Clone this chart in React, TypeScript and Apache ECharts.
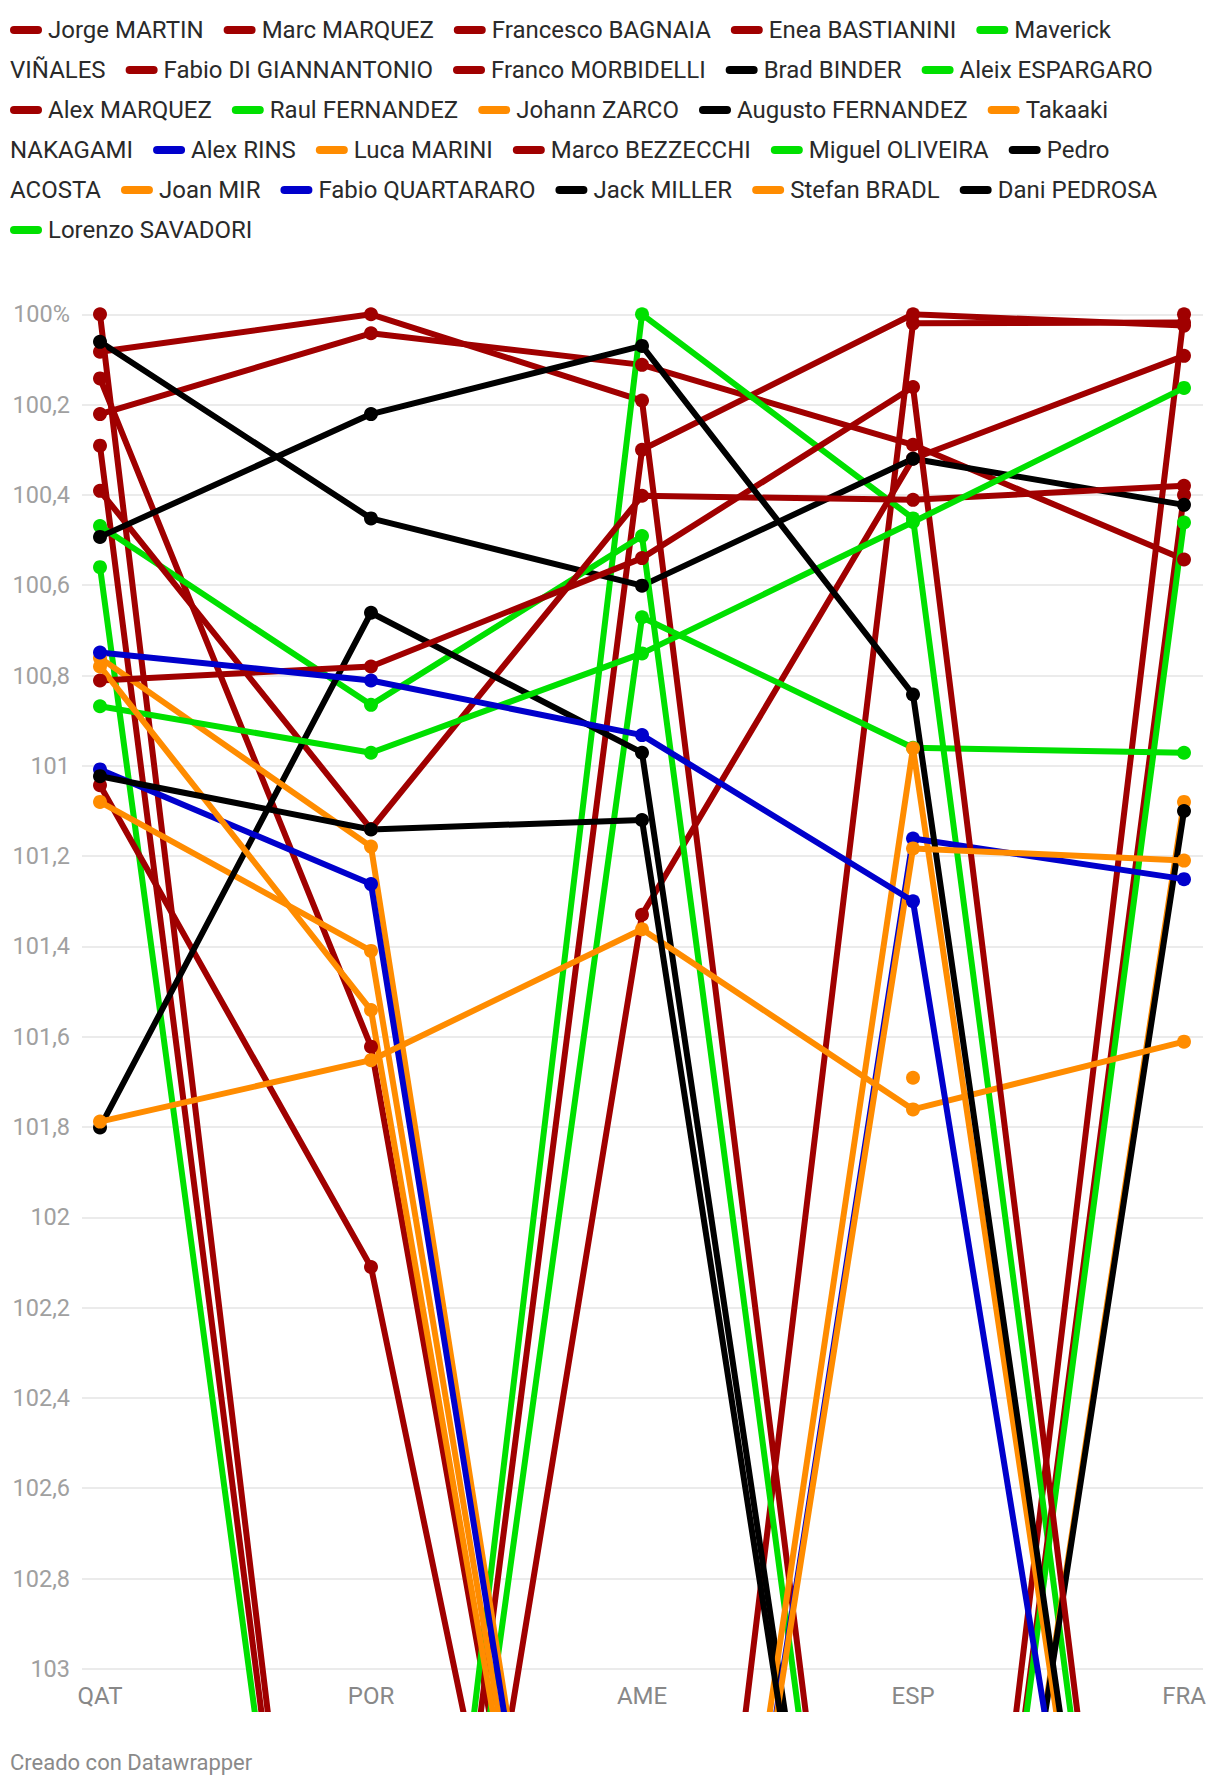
import React, { useEffect, useRef } from "react";
import * as echarts from "echarts";

// ---------- DATA ----------
const races = ["QAT", "POR", "AME", "ESP", "FRA"];

const yTickValues = [100, 100.2, 100.4, 100.6, 100.8, 101, 101.2, 101.4, 101.6, 101.8, 102, 102.2, 102.4, 102.6, 102.8, 103];
const yTickLabels = ["100%", "100,2", "100,4", "100,6", "100,8", "101", "101,2", "101,4", "101,6", "101,8", "102", "102,2", "102,4", "102,6", "102,8", "103"];

const riderNames = [
  "Jorge MARTIN", "Marc MARQUEZ", "Francesco BAGNAIA", "Enea BASTIANINI", "Maverick VIÑALES",
  "Fabio DI GIANNANTONIO", "Franco MORBIDELLI", "Brad BINDER", "Aleix ESPARGARO", "Alex MARQUEZ",
  "Raul FERNANDEZ", "Johann ZARCO", "Augusto FERNANDEZ", "Takaaki NAKAGAMI", "Alex RINS",
  "Luca MARINI", "Marco BEZZECCHI", "Miguel OLIVEIRA", "Pedro ACOSTA", "Joan MIR",
  "Fabio QUARTARARO", "Jack MILLER", "Stefan BRADL", "Dani PEDROSA", "Lorenzo SAVADORI",
];

const riderBrand = [
  "ducati", "ducati", "ducati", "ducati", "aprilia",
  "ducati", "ducati", "ktm", "aprilia", "ducati",
  "aprilia", "honda", "ktm", "honda", "yamaha",
  "honda", "ducati", "aprilia", "ktm", "honda",
  "yamaha", "ktm", "honda", "ktm", "aprilia",
];

// % of reference time per race (QAT, POR, AME, ESP, FRA); null = no entry
const jorgeMartin = [100.083, 100.0, 100.191, 105, 100.0];
const marcMarquez = [100.142, 101.622, 105, 100.02, 100.018];
const francescoBagnaia = [100.0, 105, 100.3, 100.0, 100.025];
const eneaBastianini = [100.221, 100.042, 100.112, 100.289, 100.543];
const maverickVinales = [100.56, 105, 100.0, 100.452, 105];
const fabioDiGiannantonio = [100.291, 105, 101.33, 100.32, 100.092];
const francoMorbidelli = [101.043, 102.11, 105, 105, 100.4];
const bradBinder = [100.061, 100.452, 100.601, 100.32, 100.422];
const aleixEspargaro = [100.469, 100.865, 100.491, 105, 100.461];
const alexMarquez = [100.391, 101.14, 100.402, 100.411, 100.38];
const raulFernandez = [null, 105, 100.671, 100.96, 100.971];
const johannZarco = [101.08, 101.41, 105, 105, 101.08];
const augustoFernandez = [101.801, 100.661, 100.971, 105, 101.1];
const takaakiNakagami = [100.761, 101.179, 105, 100.961, 105];
const alexRins = [101.008, 101.262, 105, 101.161, 101.251];
const lucaMarini = [101.788, 101.652, 101.362, 101.761, 101.611];
const marcoBezzecchi = [100.811, 100.78, 100.54, 100.161, 105];
const miguelOliveira = [100.868, 100.971, 100.751, 100.46, 100.163];
const pedroAcosta = [100.493, 100.221, 100.07, 100.842, 105];
const joanMir = [100.78, 101.541, 105, 101.183, 101.21];
const fabioQuartararo = [100.749, 100.811, 100.932, 101.3, 105];
const jackMiller = [101.023, 101.141, 101.12, 105, 105];
const stefanBradl = [null, null, null, 101.691, null];
const daniPedrosa = [null, null, null, 105, null];
const lorenzoSavadori = [null, null, null, null, null];

const riderValues = [
  jorgeMartin, marcMarquez, francescoBagnaia, eneaBastianini, maverickVinales,
  fabioDiGiannantonio, francoMorbidelli, bradBinder, aleixEspargaro, alexMarquez,
  raulFernandez, johannZarco, augustoFernandez, takaakiNakagami, alexRins,
  lucaMarini, marcoBezzecchi, miguelOliveira, pedroAcosta, joanMir,
  fabioQuartararo, jackMiller, stefanBradl, daniPedrosa, lorenzoSavadori,
];

const footerText = "Creado con Datawrapper";

// ---------- STYLE / LAYOUT ----------
const brandColor: Record<string, string> = {
  ducati: "#a00000",
  aprilia: "#00e000",
  ktm: "#000000",
  honda: "#ff8c00",
  yamaha: "#0000cc",
};

const W = 1220;
const H = 1786;
const Y_TOP = 314.3; // pixel of value 100
const PX_PER_UNIT = 451.5;
const Y_MIN = 100;
const Y_MAX = 103;
const CLIP_BOTTOM = 1709;
const Y_CLIP_MAX = Y_MIN + (CLIP_BOTTOM - Y_TOP) / PX_PER_UNIT;
const PLOT_LEFT = 100;
const PLOT_RIGHT = 1184;
const FRAME_LEFT = 82;
const FRAME_RIGHT = 1203;
const FONT = "Roboto";

const LEG = { x0: 10, maxX: 1185, y0: 30, rowH: 40, swW: 32, swH: 8, swGap: 6, itemGap: 20, size: 24, color: "#2a2a2a" };

function buildLegend(): any[] {
  const cnv = document.createElement("canvas");
  const ctx = cnv.getContext("2d")!;
  ctx.font = `${LEG.size}px ${FONT}`;
  const mw = (s: string) => ctx.measureText(s).width;
  const els: any[] = [];
  let x = LEG.x0;
  let row = 0;
  const pushText = (t: string, tx: number, r: number) => {
    els.push({
      type: "text",
      x: tx,
      y: LEG.y0 + r * LEG.rowH,
      silent: true,
      style: {
        text: t,
        font: `${LEG.size}px ${FONT}`,
        fill: LEG.color,
        textVerticalAlign: "middle",
        verticalAlign: "middle",
        textAlign: "left",
        align: "left",
      },
    });
  };
  riderNames.forEach((name, i) => {
    const words = name.split(" ");
    const firstW = LEG.swW + LEG.swGap + mw(words[0]);
    if (x > LEG.x0) {
      if (x + LEG.itemGap + firstW > LEG.maxX) {
        row++;
        x = LEG.x0;
      } else {
        x += LEG.itemGap;
      }
    }
    const cy = LEG.y0 + row * LEG.rowH;
    els.push({
      type: "rect",
      silent: true,
      shape: { x, y: cy - LEG.swH / 2, width: LEG.swW, height: LEG.swH, r: LEG.swH / 2 },
      style: { fill: brandColor[riderBrand[i]] },
    });
    let segX = x + LEG.swW + LEG.swGap;
    let seg = words[0];
    for (let k = 1; k < words.length; k++) {
      const cand = seg + " " + words[k];
      if (segX + mw(cand) > LEG.maxX) {
        pushText(seg, segX, row);
        row++;
        segX = LEG.x0;
        seg = words[k];
      } else {
        seg = cand;
      }
    }
    pushText(seg, segX, row);
    x = segX + mw(seg);
  });
  return els;
}

export default function App() {
  const ref = useRef<HTMLDivElement>(null);
  useEffect(() => {
    const el = ref.current!;
    const chart = echarts.init(el, null, { renderer: "svg" });

    const series = riderNames.map((name, i) => {
      const c = brandColor[riderBrand[i]];
      return {
        name,
        type: "line",
        xAxisIndex: 1,
        yAxisIndex: 1,
        data: riderValues[i],
        connectNulls: false,
        clip: true,
        symbol: "circle",
        symbolSize: 14,
        showSymbol: true,
        showAllSymbol: true,
        color: c,
        itemStyle: { color: c },
        lineStyle: { color: c, width: 6, cap: "round", join: "round" },
        emphasis: { disabled: true },
        silent: true,
      };
    });

    const option: any = {
      animation: false,
      backgroundColor: "#ffffff",
      textStyle: { fontFamily: FONT },
      grid: [
        { left: FRAME_LEFT, top: Y_TOP, width: FRAME_RIGHT - FRAME_LEFT, height: (Y_MAX - Y_MIN) * PX_PER_UNIT },
        { left: PLOT_LEFT, top: Y_TOP, width: PLOT_RIGHT - PLOT_LEFT, height: CLIP_BOTTOM - Y_TOP },
        { left: PLOT_LEFT, top: Y_TOP, width: PLOT_RIGHT - PLOT_LEFT, height: (Y_MAX - Y_MIN) * PX_PER_UNIT },
      ],
      xAxis: [
        { gridIndex: 0, type: "value", min: 0, max: 1, show: false },
        { gridIndex: 1, type: "category", data: races, boundaryGap: false, show: false },
        {
          gridIndex: 2,
          type: "category",
          data: races,
          boundaryGap: false,
          axisLine: { show: false },
          axisTick: { show: false },
          splitLine: { show: false },
          axisLabel: { color: "#888888", fontSize: 24, fontFamily: FONT, margin: 15 },
        },
      ],
      yAxis: [
        {
          gridIndex: 0,
          type: "value",
          inverse: true,
          min: Y_MIN,
          max: Y_MAX,
          interval: 0.2,
          axisLine: { show: false },
          axisTick: { show: false },
          splitLine: { show: true, lineStyle: { color: "#e4e4e4", width: 1.5 } },
          axisLabel: {
            color: "#a0a0a0",
            fontSize: 23.5,
            fontFamily: FONT,
            margin: 12,
            formatter: (v: number) => {
              const idx = yTickValues.findIndex((t) => Math.abs(t - v) < 1e-6);
              return idx >= 0 ? yTickLabels[idx] : "";
            },
          },
        },
        { gridIndex: 1, type: "value", inverse: true, min: Y_MIN, max: Y_CLIP_MAX, show: false, splitLine: { show: false } },
        { gridIndex: 2, type: "value", inverse: true, min: Y_MIN, max: Y_MAX, show: false, splitLine: { show: false } },
      ],
      graphic: [
        ...buildLegend(),
        {
          type: "text",
          x: 10,
          y: 1762,
          silent: true,
          style: {
            text: footerText,
            font: `22px ${FONT}`,
            fill: "#8a8a8a",
            textVerticalAlign: "middle",
            verticalAlign: "middle",
          },
        },
      ],
      series,
    };

    chart.setOption(option);
    return () => chart.dispose();
  }, []);

  return (
    <div
      ref={ref}
      style={{ position: "absolute", left: 0, top: 0, width: W, height: H, background: "#ffffff" }}
    />
  );
}
